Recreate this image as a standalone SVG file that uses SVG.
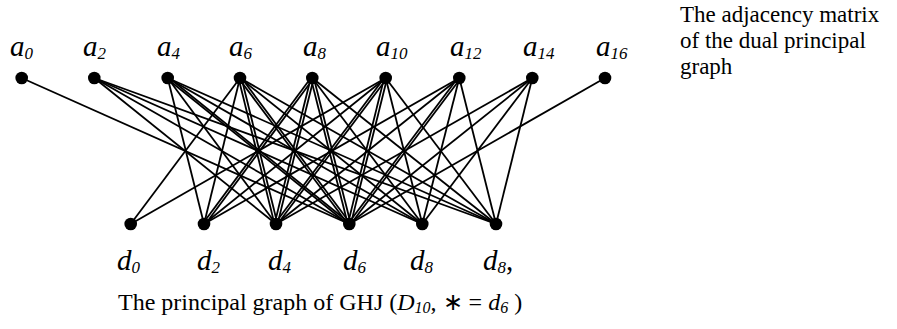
<svg xmlns="http://www.w3.org/2000/svg" width="897" height="329" viewBox="0 0 897 329">
<style>
.e{stroke:#000;stroke-width:1.8;fill:none}
.n{fill:#000}
.lbl{font-family:"Liberation Serif","Times New Roman",serif;font-style:italic;fill:#000}
.big{font-size:29px}
.sub{font-size:17px}
.txt{font-family:"Liberation Serif","Times New Roman",serif;fill:#000}
</style>
<rect width="897" height="329" fill="#fff"/>
<g id="connectors">
<!-- a0 -->
<line class="e" x1="21.7" y1="78" x2="349.3" y2="224"/>
<!-- a2 -->
<line class="e" x1="94.3" y1="78" x2="276" y2="224"/>
<line class="e" x1="94.3" y1="78" x2="349.3" y2="224"/>
<line class="e" x1="94.3" y1="78" x2="422.3" y2="224"/>
<line class="e" x1="94.3" y1="78" x2="496" y2="224"/>
<!-- a4 -->
<line class="e" x1="167.7" y1="78" x2="204" y2="224"/>
<line class="e" x1="167.7" y1="78" x2="276" y2="224"/>
<line class="e" x1="166.2" y1="78" x2="347.8" y2="224"/>
<line class="e" x1="169.2" y1="78" x2="350.8" y2="224"/>
<line class="e" x1="167.7" y1="78" x2="422.3" y2="224"/>
<line class="e" x1="167.7" y1="78" x2="496" y2="224"/>
<!-- a6 -->
<line class="e" x1="240" y1="78" x2="130.7" y2="224"/>
<line class="e" x1="240" y1="78" x2="204" y2="224"/>
<line class="e" x1="238.5" y1="78" x2="274.5" y2="224"/>
<line class="e" x1="241.5" y1="78" x2="277.5" y2="224"/>
<line class="e" x1="238.5" y1="78" x2="347.8" y2="224"/>
<line class="e" x1="241.5" y1="78" x2="350.8" y2="224"/>
<line class="e" x1="240" y1="78" x2="422.3" y2="224"/>
<line class="e" x1="240" y1="78" x2="496" y2="224"/>
<!-- a8 -->
<line class="e" x1="310.8" y1="78" x2="202.5" y2="224"/>
<line class="e" x1="313.8" y1="78" x2="205.5" y2="224"/>
<line class="e" x1="310.8" y1="78" x2="274.5" y2="224"/>
<line class="e" x1="313.8" y1="78" x2="277.5" y2="224"/>
<line class="e" x1="310.8" y1="78" x2="347.8" y2="224"/>
<line class="e" x1="313.8" y1="78" x2="350.8" y2="224"/>
<line class="e" x1="312.3" y1="78" x2="422.3" y2="224"/>
<line class="e" x1="312.3" y1="78" x2="496" y2="224"/>
<!-- a10 -->
<line class="e" x1="385.7" y1="78" x2="130.7" y2="224"/>
<line class="e" x1="385.7" y1="78" x2="204" y2="224"/>
<line class="e" x1="384.2" y1="78" x2="274.5" y2="224"/>
<line class="e" x1="387.2" y1="78" x2="277.5" y2="224"/>
<line class="e" x1="384.2" y1="78" x2="347.8" y2="224"/>
<line class="e" x1="387.2" y1="78" x2="350.8" y2="224"/>
<line class="e" x1="385.7" y1="78" x2="422.3" y2="224"/>
<line class="e" x1="385.7" y1="78" x2="496" y2="224"/>
<!-- a12 -->
<line class="e" x1="459.3" y1="78" x2="204" y2="224"/>
<line class="e" x1="459.3" y1="78" x2="276" y2="224"/>
<line class="e" x1="457.8" y1="78" x2="347.8" y2="224"/>
<line class="e" x1="460.8" y1="78" x2="350.8" y2="224"/>
<line class="e" x1="459.3" y1="78" x2="422.3" y2="224"/>
<line class="e" x1="459.3" y1="78" x2="496" y2="224"/>
<!-- a14 -->
<line class="e" x1="532.3" y1="78" x2="276" y2="224"/>
<line class="e" x1="532.3" y1="78" x2="349.3" y2="224"/>
<line class="e" x1="532.3" y1="78" x2="422.3" y2="224"/>
<line class="e" x1="532.3" y1="78" x2="496" y2="224"/>
<!-- a16 -->
<line class="e" x1="605" y1="78" x2="349.3" y2="224"/>
</g>
<g id="a0"><circle class="n" cx="21.7" cy="78" r="6.3"/><text class="lbl" x="10" y="56"><tspan class="big">a</tspan><tspan class="sub" dy="3">0</tspan></text></g>
<g id="a2"><circle class="n" cx="94.3" cy="78" r="6.3"/><text class="lbl" x="83" y="56"><tspan class="big">a</tspan><tspan class="sub" dy="3">2</tspan></text></g>
<g id="a4"><circle class="n" cx="167.7" cy="78" r="6.3"/><text class="lbl" x="157" y="56"><tspan class="big">a</tspan><tspan class="sub" dy="3">4</tspan></text></g>
<g id="a6"><circle class="n" cx="240" cy="78" r="6.3"/><text class="lbl" x="229" y="56"><tspan class="big">a</tspan><tspan class="sub" dy="3">6</tspan></text></g>
<g id="a8"><circle class="n" cx="312.3" cy="78" r="6.3"/><text class="lbl" x="303" y="56"><tspan class="big">a</tspan><tspan class="sub" dy="3">8</tspan></text></g>
<g id="a10"><circle class="n" cx="385.7" cy="78" r="6.3"/><text class="lbl" x="376" y="56"><tspan class="big">a</tspan><tspan class="sub" dy="3">10</tspan></text></g>
<g id="a12"><circle class="n" cx="459.3" cy="78" r="6.3"/><text class="lbl" x="450" y="56"><tspan class="big">a</tspan><tspan class="sub" dy="3">12</tspan></text></g>
<g id="a14"><circle class="n" cx="532.3" cy="78" r="6.3"/><text class="lbl" x="523" y="56"><tspan class="big">a</tspan><tspan class="sub" dy="3">14</tspan></text></g>
<g id="a16"><circle class="n" cx="605" cy="78" r="6.3"/><text class="lbl" x="596" y="56"><tspan class="big">a</tspan><tspan class="sub" dy="3">16</tspan></text></g>
<g id="d0"><circle class="n" cx="130.7" cy="224" r="6.3"/><text class="lbl" x="117" y="270"><tspan class="big">d</tspan><tspan class="sub" dy="3">0</tspan></text></g>
<g id="d2"><circle class="n" cx="204" cy="224" r="6.3"/><text class="lbl" x="197" y="270"><tspan class="big">d</tspan><tspan class="sub" dy="3">2</tspan></text></g>
<g id="d4"><circle class="n" cx="276" cy="224" r="6.3"/><text class="lbl" x="268" y="270"><tspan class="big">d</tspan><tspan class="sub" dy="3">4</tspan></text></g>
<g id="d6"><circle class="n" cx="349.3" cy="224" r="6.3"/><text class="lbl" x="343" y="270"><tspan class="big">d</tspan><tspan class="sub" dy="3">6</tspan></text></g>
<g id="d8"><circle class="n" cx="422.3" cy="224" r="6.3"/><text class="lbl" x="410" y="270"><tspan class="big">d</tspan><tspan class="sub" dy="3">8</tspan></text></g>
<g id="d8p"><circle class="n" cx="496" cy="224" r="6.3"/><text class="lbl" x="483" y="270"><tspan class="big">d</tspan><tspan class="sub" dy="3">8</tspan><tspan class="big" dy="-3" font-style="normal">,</tspan></text></g>
<g id="caption"><text class="txt" x="118" y="310" font-size="24">The principal graph of GHJ (<tspan font-style="italic">D</tspan><tspan font-style="italic" font-size="16" dy="3">10</tspan><tspan dy="-3">, ∗ = </tspan><tspan font-style="italic">d</tspan><tspan font-style="italic" font-size="16" dy="3">6</tspan><tspan dy="-3"> )</tspan></text></g>
<g id="note"><text class="txt" font-size="23"><tspan x="680" y="22">The adjacency matrix</tspan><tspan x="680" y="48">of the dual principal</tspan><tspan x="680" y="74">graph</tspan></text></g>
</svg>
